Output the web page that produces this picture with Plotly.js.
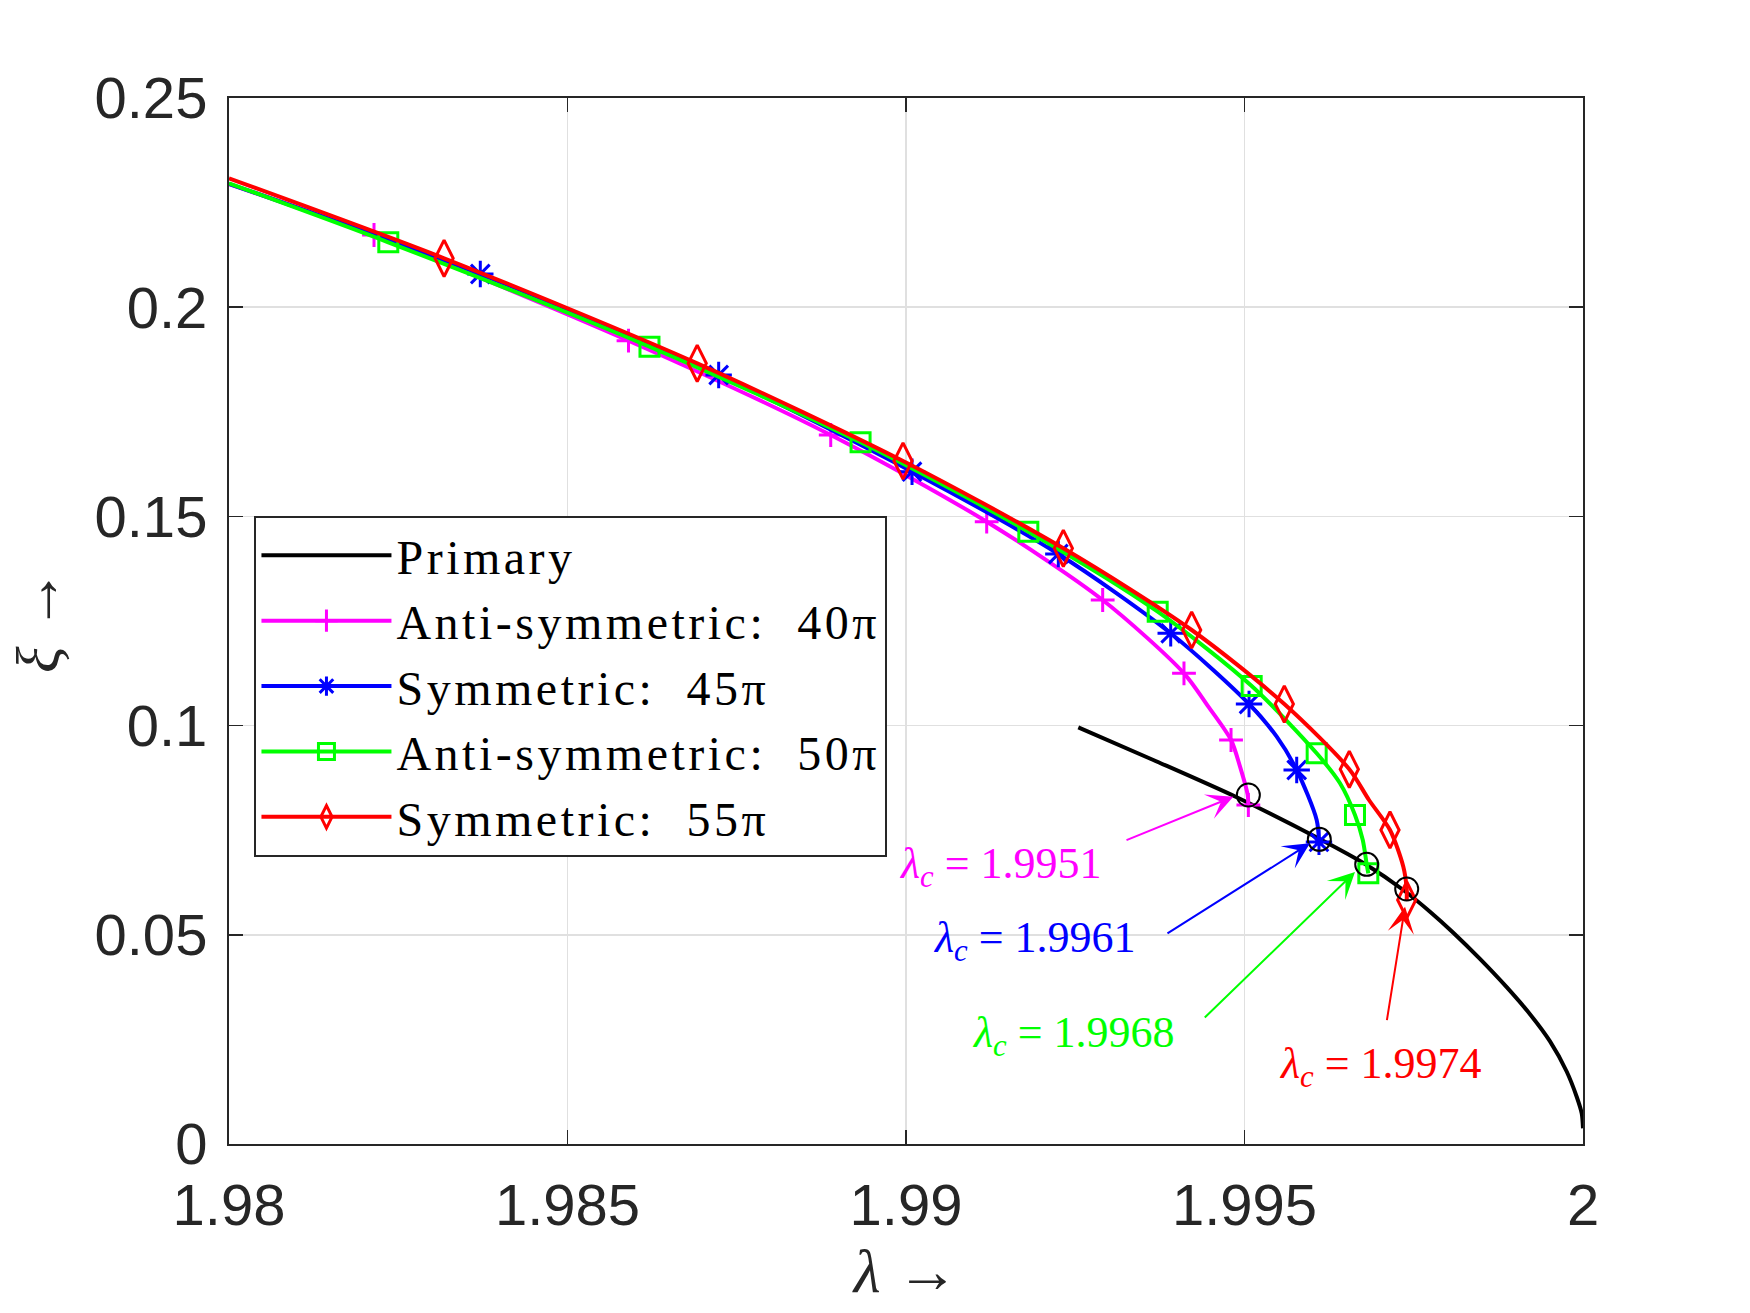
<!DOCTYPE html>
<html>
<head>
<meta charset="utf-8">
<script src="https://cdn.plot.ly/plotly-3.0.1.min.js"></script>
<style>
html,body{margin:0;padding:0;background:#fff;}
#chart{width:1750px;height:1313px;}
.legendtext{letter-spacing:3.5px;}
</style>
</head>
<body>
<div id="chart"></div>
<script>
// ---- data ----
var xTickVals = [1.98, 1.985, 1.99, 1.995, 2];
var xTickText = ['1.98', '1.985', '1.99', '1.995', '2'];
var yTickVals = [0, 0.05, 0.1, 0.15, 0.2, 0.25];
var yTickText = ['0', '0.05', '0.1', '0.15', '0.2', '0.25'];

var seriesNames = ['Primary', 'Anti-symmetric:  40\u03c0', 'Symmetric:  45\u03c0', 'Anti-symmetric:  50\u03c0', 'Symmetric:  55\u03c0'];

// Primary branch
var lamP = [1.992545, 1.993653, 1.994885, 1.996090, 1.996805, 1.997346, 1.997740, 1.998084, 1.998478, 1.998873, 1.999217, 1.999513, 1.999759, 1.999907, 1.999981, 2.0000];
var xiP  = [0.09959, 0.09178, 0.08286, 0.07306, 0.06668, 0.06071, 0.05552, 0.05050, 0.04424, 0.03748, 0.03102, 0.02452, 0.01733, 0.01130, 0.00733, 0.00375];

// Anti-symmetric 40pi (curve)
var lam40 = [1.98, 1.982142, 1.985901, 1.988888, 1.991192, 1.992905, 1.994106, 1.994466, 1.994801, 1.994934, 1.995047, 1.995057];
var xi40  = [0.2294, 0.21726, 0.19199, 0.16946, 0.14873, 0.13002, 0.11250, 0.10452, 0.09656, 0.09018, 0.08341, 0.08102];
// markers
var lam40m = [1.982142, 1.985901, 1.988888, 1.991192, 1.992905, 1.994106, 1.994801, 1.995057];
var xi40m  = [0.21726, 0.19199, 0.16946, 0.14873, 0.13002, 0.11250, 0.09656, 0.08102];

// Symmetric 45pi
var lam45 = [1.98, 1.983712, 1.987233, 1.990089, 1.992250, 1.993910, 1.995067, 1.995476, 1.995771, 1.996066, 1.996100];
var xi45  = [0.2295, 0.20793, 0.18380, 0.16068, 0.14101, 0.12206, 0.10516, 0.09735, 0.08939, 0.07744, 0.07220];
var lam45m = [1.983712, 1.987233, 1.990089, 1.992250, 1.993910, 1.995067, 1.995771, 1.996100];
var xi45m  = [0.20793, 0.18380, 0.16068, 0.14101, 0.12206, 0.10516, 0.08939, 0.07220];

// Anti-symmetric 50pi
var lam50 = [1.98, 1.982353, 1.986211, 1.989329, 1.991807, 1.993718, 1.995106, 1.996066, 1.996411, 1.996632, 1.996747, 1.996805, 1.996829];
var xi50  = [0.2296, 0.21551, 0.19056, 0.16771, 0.14635, 0.12722, 0.10946, 0.09338, 0.08621, 0.07863, 0.07266, 0.06685, 0.06470];
var lam50m = [1.982353, 1.986211, 1.989329, 1.991807, 1.993718, 1.995106, 1.996066, 1.996632, 1.996829];
var xi50m  = [0.21551, 0.19056, 0.16771, 0.14635, 0.12722, 0.10946, 0.09338, 0.07863, 0.06470];

// Symmetric 55pi
var lam55 = [1.98, 1.983177, 1.986916, 1.989956, 1.992324, 1.994220, 1.995588, 1.996548, 1.996839, 1.997149, 1.997346, 1.997396, 1.997396];
var xi55  = [0.2308, 0.21169, 0.18659, 0.16324, 0.14237, 0.12285, 0.10516, 0.08956, 0.08222, 0.07505, 0.06628, 0.06094, 0.05832];
var lam55m = [1.983177, 1.986916, 1.989956, 1.992324, 1.994220, 1.995588, 1.996548, 1.997149, 1.997396];
var xi55m  = [0.21169, 0.18659, 0.16324, 0.14237, 0.12285, 0.10516, 0.08956, 0.07505, 0.05832];

// bifurcation points on primary branch
var lamC = [1.995057, 1.996105, 1.996805, 1.997396];
var xiC  = [0.08341, 0.07282, 0.06685, 0.06094];
var lamCLabels = ['1.9951', '1.9961', '1.9968', '1.9974'];

// ---- styling ----
var colors = ['#000000', '#ff00ff', '#0000ff', '#00ff00', '#ff0000'];
var symbols = [null, 'cross-thin-open', 'asterisk-open', 'square-open', 'diamond-tall-open'];
var msizes = [0, 17, 22, 19, 26];
var LW = 4;

var curves = [[lamP, xiP], [lam40, xi40], [lam45, xi45], [lam50, xi50], [lam55, xi55]];
var marks = [null, [lam40m, xi40m], [lam45m, xi45m], [lam50m, xi50m], [lam55m, xi55m]];

var traces = [];
// legend entries
for (var i = 0; i < 5; i++) {
  var t = {x: [null], y: [null], name: seriesNames[i], type: 'scatter', showlegend: true,
    mode: i === 0 ? 'lines' : 'lines+markers', line: {color: colors[i], width: LW}};
  if (i > 0) t.marker = {symbol: symbols[i], size: msizes[i], color: colors[i], line: {color: colors[i], width: 3}};
  traces.push(t);
}
for (var i = 0; i < 5; i++) {
  traces.push({x: curves[i][0], y: curves[i][1], type: 'scatter', mode: 'lines', showlegend: false,
    hoverinfo: 'skip', line: {color: colors[i], width: LW, shape: 'spline', smoothing: 0.8}});
  if (i > 0) {
    traces.push({x: marks[i][0], y: marks[i][1], type: 'scatter', mode: 'markers', showlegend: false,
      marker: {symbol: symbols[i], size: msizes[i], color: colors[i], line: {color: colors[i], width: 3}}});
  }
}
traces.push({x: lamC, y: xiC, type: 'scatter', mode: 'markers', showlegend: false,
  marker: {symbol: 'circle-open', size: 23, color: '#000', line: {color: '#000', width: 2}}});

// annotation geometry (arrow head = point, tail, label centre)
var arrowHead = [[1.994835, 0.08301], [1.995967, 0.07187], [1.996632, 0.06500], [1.997371, 0.05672]];
var arrowTail = [[1.993235, 0.07249], [1.993840, 0.05012], [1.994391, 0.02987], [1.997100, 0.02923]];
var labelPos  = [[1.991396, 0.06644], [1.991891, 0.04852], [1.992467, 0.02605], [1.997002, 0.01864]];

var annotations = [];
for (var k = 0; k < 4; k++) {
  annotations.push({x: arrowHead[k][0], y: arrowHead[k][1], xref: 'x', yref: 'y',
    ax: arrowTail[k][0], ay: arrowTail[k][1], axref: 'x', ayref: 'y',
    text: '', showarrow: true, arrowhead: 3, arrowsize: 2.2, arrowwidth: 2,
    arrowcolor: colors[k + 1], standoff: 0, startstandoff: 0});
  annotations.push({x: labelPos[k][0], y: labelPos[k][1], xref: 'x', yref: 'y', showarrow: false,
    text: '<i>\u03bb</i><sub><i>c</i></sub> = ' + lamCLabels[k], xanchor: 'center', yanchor: 'middle',
    font: {family: 'Liberation Serif, Times New Roman, serif', size: 44, color: colors[k + 1]}});
}

var axisCommon = {
  showline: true, linecolor: '#262626', linewidth: 2, mirror: 'allticks',
  ticks: 'inside', ticklen: 14, tickwidth: 1.5, tickcolor: '#262626',
  showgrid: true, gridcolor: '#e0e0e0', gridwidth: 1.5, zeroline: false,
  tickfont: {family: 'Liberation Sans, Arial, sans-serif', size: 58, color: '#262626'}
};

var layout = {
  width: 1750, height: 1313,
  margin: {l: 229, r: 167, t: 98, b: 169},
  paper_bgcolor: '#ffffff', plot_bgcolor: '#ffffff',
  showlegend: true,
  xaxis: Object.assign({}, axisCommon, {range: [1.98, 2], tickmode: 'array', tickvals: xTickVals, ticktext: xTickText,
    ticklabelstandoff: 9,
    title: {text: '<i>\u03bb</i> \u2192', standoff: 13, font: {family: 'Liberation Serif, Times New Roman, serif', size: 62, color: '#262626'}}}),
  yaxis: Object.assign({}, axisCommon, {range: [0, 0.25], tickmode: 'array', tickvals: yTickVals, ticktext: yTickText,
    ticklabelstandoff: 8,
    title: {text: '<i>\u03be</i> \u2192', standoff: 15, font: {family: 'Liberation Serif, Times New Roman, serif', size: 62, color: '#262626'}}}),
  legend: {x: 0.0188, y: 0.6008, xanchor: 'left', yanchor: 'top', bgcolor: '#ffffff',
    bordercolor: '#262626', borderwidth: 2, itemwidth: 130, tracegroupgap: 0,
    font: {family: 'Liberation Serif, Times New Roman, serif', size: 48, color: '#000'}},
  annotations: annotations
};

Plotly.newPlot('chart', traces, layout, {staticPlot: true, displayModeBar: false});
</script>
</body>
</html>
